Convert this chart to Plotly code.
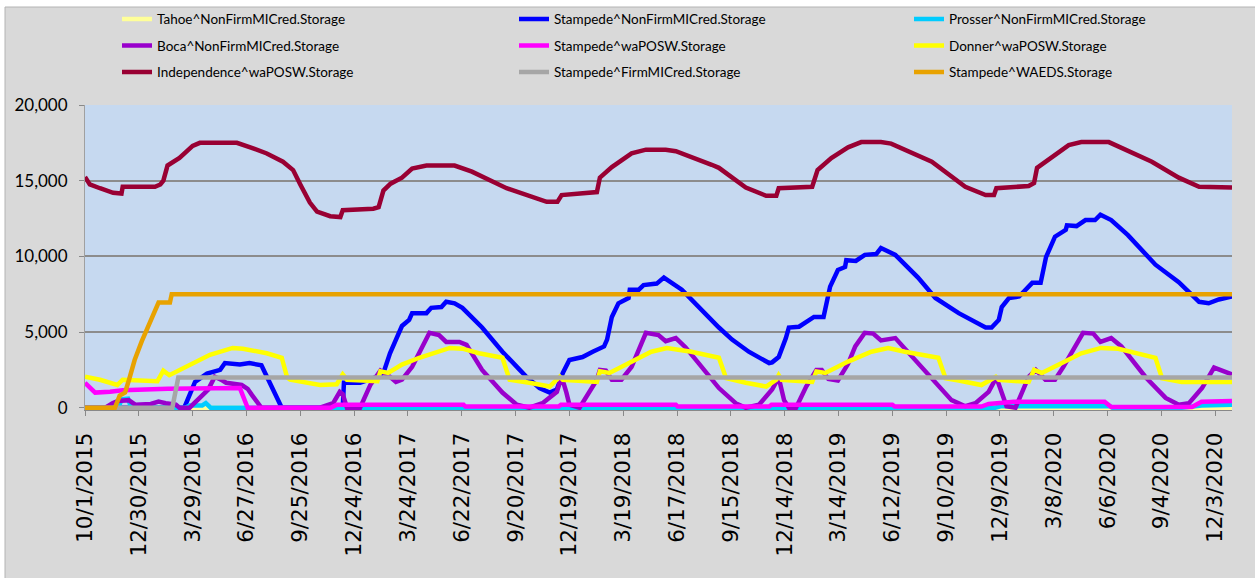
import plotly.graph_objects as go

X_START = "2015-10-01"
X_END = "2020-12-31"
TICK_START = "2015-10-01"
TICK_STEP_DAYS = 90
Y_TICKS = [0, 5000, 10000, 15000, 20000]

TAHOE_DATES = ["2015-10-01", "2020-12-31"]
TAHOE_VALUES = [0, 0]

STNF_DATES = ["2015-10-01", "2016-03-15", "2016-04-02", "2016-04-22", "2016-05-14", "2016-05-22",
              "2016-06-16", "2016-07-02", "2016-07-22", "2016-08-25", "2016-12-05", "2016-12-07",
              "2017-01-03", "2017-01-25", "2017-02-11", "2017-02-22", "2017-03-04", "2017-03-14",
              "2017-03-26", "2017-03-31", "2017-04-24", "2017-05-02", "2017-05-19", "2017-05-27",
              "2017-06-10", "2017-06-23", "2017-07-26", "2017-08-29", "2017-09-27", "2017-10-08",
              "2017-10-30", "2017-11-16", "2017-11-28", "2017-12-08", "2017-12-19", "2018-01-10",
              "2018-01-27", "2018-02-15", "2018-02-20", "2018-02-28", "2018-03-11", "2018-03-28",
              "2018-03-30", "2018-04-14", "2018-04-22", "2018-05-14", "2018-05-26", "2018-06-25",
              "2018-08-26", "2018-09-17", "2018-10-15", "2018-11-18", "2018-11-23", "2018-12-04",
              "2018-12-16", "2018-12-21", "2019-01-07", "2019-02-01", "2019-02-17", "2019-02-28",
              "2019-03-13", "2019-03-25", "2019-03-27", "2019-04-12", "2019-04-27", "2019-05-16",
              "2019-05-24", "2019-06-17", "2019-07-25", "2019-08-23", "2019-10-01", "2019-11-15",
              "2019-11-25", "2019-12-07", "2019-12-12", "2019-12-24", "2020-01-10", "2020-02-01",
              "2020-02-15", "2020-02-24", "2020-03-10", "2020-03-28", "2020-03-30", "2020-04-15",
              "2020-04-30", "2020-05-16", "2020-05-25", "2020-06-12", "2020-07-10", "2020-08-25",
              "2020-10-03", "2020-10-20", "2020-11-06", "2020-11-22", "2020-12-09", "2020-12-31"]
STNF_VALUES = [0, 0, 1700, 2250, 2500, 2950,
               2850, 2950, 2800, 0, 0, 1650,
               1650, 1950, 2300, 3600, 4500, 5400,
               5800, 6250, 6250, 6600, 6650, 7000,
               6900, 6600, 5300, 3700, 2500, 2050,
               1300, 1000, 1200, 2300, 3150, 3350,
               3700, 4050, 4500, 6000, 6900, 7250,
               7800, 7800, 8100, 8200, 8600, 7800,
               5300, 4500, 3700, 2950, 3000, 3350,
               4600, 5300, 5350, 6000, 6000, 8000,
               9100, 9300, 9750, 9700, 10100, 10150,
               10550, 10100, 8600, 7250, 6250, 5300,
               5300, 5800, 6650, 7250, 7350, 8250,
               8250, 9950, 11300, 11750, 12050, 12000,
               12400, 12400, 12750, 12400, 11400, 9450,
               8300, 7650, 7000, 6900, 7150, 7350]

PROSSER_DATES = ["2015-10-01", "2015-11-26", "2015-12-01", "2015-12-12", "2015-12-17", "2016-03-17",
                 "2016-03-24", "2016-04-14", "2016-04-20", "2016-04-28", "2019-12-01", "2019-12-10",
                 "2020-06-10", "2020-06-14", "2020-10-08", "2020-11-10", "2020-12-31"]
PROSSER_VALUES = [0, 0, 550, 600, 0, 0,
                  150, 150, 300, 0, 0, 100,
                  100, 0, 0, 150, 200]

BOCA_DATES = ["2015-10-01", "2015-11-04", "2015-11-16", "2015-11-25", "2015-12-13", "2015-12-24",
              "2016-01-19", "2016-02-01", "2016-02-13", "2016-03-01", "2016-03-07", "2016-03-24",
              "2016-04-24", "2016-05-05", "2016-05-18", "2016-05-24", "2016-06-19", "2016-06-29",
              "2016-07-06", "2016-07-22", "2016-10-28", "2016-11-19", "2016-11-30", "2016-12-05",
              "2016-12-12", "2017-01-03", "2017-01-20", "2017-02-06", "2017-02-22", "2017-03-04",
              "2017-03-14", "2017-03-31", "2017-04-29", "2017-05-15", "2017-05-27", "2017-06-18",
              "2017-06-30", "2017-07-26", "2017-08-29", "2017-09-22", "2017-10-13", "2017-11-04",
              "2017-11-28", "2017-12-06", "2017-12-14", "2017-12-19", "2018-01-05", "2018-02-03",
              "2018-02-08", "2018-02-18", "2018-02-28", "2018-03-16", "2018-04-02", "2018-04-26",
              "2018-05-17", "2018-05-29", "2018-06-15", "2018-07-01", "2018-07-23", "2018-08-26",
              "2018-09-23", "2018-10-10", "2018-11-01", "2018-11-23", "2018-12-04", "2018-12-13",
              "2018-12-21", "2019-01-02", "2019-01-19", "2019-02-05", "2019-02-14", "2019-02-25",
              "2019-03-13", "2019-03-30", "2019-04-11", "2019-04-27", "2019-05-11", "2019-05-24",
              "2019-06-17", "2019-07-03", "2019-08-11", "2019-09-19", "2019-10-12", "2019-10-29",
              "2019-11-20", "2019-12-03", "2019-12-20", "2020-01-04", "2020-01-26", "2020-02-07",
              "2020-02-23", "2020-03-10", "2020-03-24", "2020-04-13", "2020-04-26", "2020-05-13",
              "2020-05-25", "2020-06-12", "2020-06-29", "2020-08-09", "2020-09-11", "2020-10-03",
              "2020-10-20", "2020-11-11", "2020-12-01", "2020-12-31"]
BOCA_VALUES = [0, 0, 300, 450, 500, 200,
               250, 400, 300, 200, 0, 0,
               1200, 2050, 1800, 1650, 1500, 1250,
               850, 0, 0, 300, 1050, 900,
               0, 0, 1500, 2450, 2050, 1700,
               1850, 2700, 4950, 4800, 4350, 4350,
               4150, 2500, 1000, 200, 0, 300,
               1050, 2050, 1000, 200, 0, 1850,
               2500, 2450, 1850, 1850, 2700, 4950,
               4800, 4400, 4600, 4000, 2950, 1300,
               300, 0, 200, 1200, 2000, 500,
               0, 0, 1400, 2500, 2500, 1900,
               1800, 2900, 4050, 4950, 4900, 4450,
               4600, 3900, 2100, 500, 100, 300,
               1050, 2000, 100, 0, 2050, 2500,
               1850, 1850, 2700, 4050, 4950, 4900,
               4350, 4600, 4050, 2000, 650, 200,
               300, 1300, 2650, 2200]

STWA_DATES = ["2015-10-01", "2015-10-18", "2015-11-12", "2015-12-03", "2016-02-16", "2016-06-16",
              "2016-06-29", "2016-11-15", "2016-11-25", "2017-06-25", "2017-06-28", "2017-12-01",
              "2017-12-05", "2018-06-15", "2018-06-18", "2018-11-18", "2018-11-22", "2019-06-12",
              "2019-06-16", "2019-11-08", "2019-11-20", "2019-12-10", "2020-01-01", "2020-06-01",
              "2020-06-12", "2020-10-25", "2020-11-10", "2020-12-31"]
STWA_VALUES = [1650, 1000, 1050, 1150, 1250, 1300,
               0, 0, 200, 200, 80, 80,
               200, 200, 80, 80, 200, 200,
               80, 80, 250, 320, 400, 400,
               50, 50, 400, 450]

DONNER_DATES = ["2015-10-01", "2015-10-26", "2015-11-24", "2015-12-03", "2016-01-30", "2016-02-09",
                "2016-02-19", "2016-03-29", "2016-04-27", "2016-06-04", "2016-06-21", "2016-07-31",
                "2016-08-25", "2016-09-03", "2016-09-08", "2016-10-28", "2016-11-25", "2016-12-05",
                "2016-12-12", "2017-02-01", "2017-02-06", "2017-02-19", "2017-03-14", "2017-04-12",
                "2017-05-10", "2017-06-02", "2017-06-23", "2017-07-21", "2017-08-29", "2017-09-10",
                "2017-10-13", "2017-11-16", "2017-12-03", "2017-12-08", "2018-02-03", "2018-02-08",
                "2018-02-24", "2018-03-16", "2018-04-09", "2018-05-05", "2018-05-31", "2018-07-11",
                "2018-08-26", "2018-09-07", "2018-10-10", "2018-11-13", "2018-11-30", "2018-12-04",
                "2018-12-09", "2019-01-29", "2019-02-05", "2019-02-20", "2019-03-30", "2019-05-08",
                "2019-06-05", "2019-07-03", "2019-08-28", "2019-09-09", "2019-10-01", "2019-11-08",
                "2019-12-02", "2019-12-07", "2020-01-26", "2020-02-04", "2020-02-17", "2020-03-21",
                "2020-04-23", "2020-05-26", "2020-06-24", "2020-08-25", "2020-09-05", "2020-10-08",
                "2020-12-31"]
DONNER_VALUES = [2050, 1850, 1500, 1850, 1750, 2450,
                 2150, 2900, 3500, 3950, 3900, 3600,
                 3300, 2000, 1850, 1500, 1550, 2200,
                 1850, 1750, 2400, 2300, 2850, 3300,
                 3700, 3950, 3900, 3600, 3300, 1850,
                 1650, 1400, 2050, 1850, 1700, 2400,
                 2300, 2700, 3150, 3700, 3950, 3700,
                 3300, 1950, 1650, 1400, 1850, 2150,
                 1850, 1700, 2400, 2300, 3050, 3700,
                 3950, 3700, 3300, 1950, 1800, 1500,
                 2050, 1850, 1700, 2500, 2300, 2950,
                 3600, 3950, 3900, 3300, 1950, 1700,
                 1700]

INDEP_DATES = ["2015-10-01", "2015-10-09", "2015-10-26", "2015-11-17", "2015-12-01", "2015-12-03",
               "2016-01-26", "2016-02-04", "2016-02-09", "2016-02-16", "2016-03-07", "2016-03-29",
               "2016-04-10", "2016-06-11", "2016-07-07", "2016-07-31", "2016-08-27", "2016-09-13",
               "2016-09-25", "2016-10-11", "2016-10-23", "2016-11-14", "2016-12-01", "2016-12-05",
               "2017-01-25", "2017-02-03", "2017-02-11", "2017-02-23", "2017-03-14", "2017-03-31",
               "2017-04-24", "2017-06-10", "2017-07-09", "2017-09-05", "2017-11-11", "2017-11-29",
               "2017-12-06", "2018-02-03", "2018-02-08", "2018-02-28", "2018-04-02", "2018-04-26",
               "2018-05-29", "2018-06-15", "2018-08-14", "2018-08-26", "2018-10-10", "2018-11-13",
               "2018-11-30", "2018-12-04", "2019-01-29", "2019-02-07", "2019-03-02", "2019-03-30",
               "2019-04-21", "2019-05-24", "2019-06-10", "2019-08-17", "2019-10-12", "2019-11-15",
               "2019-11-29", "2019-12-03", "2020-01-26", "2020-02-04", "2020-02-09", "2020-03-04",
               "2020-04-02", "2020-04-23", "2020-06-08", "2020-08-19", "2020-10-03", "2020-11-06",
               "2020-12-31"]
INDEP_VALUES = [15250, 14750, 14500, 14200, 14150, 14600,
                14600, 14750, 15000, 16000, 16500, 17300,
                17500, 17500, 17150, 16800, 16250, 15700,
                14750, 13550, 12950, 12650, 12600, 13050,
                13150, 13250, 14350, 14800, 15200, 15800,
                16000, 16000, 15600, 14500, 13600, 13600,
                14050, 14250, 15200, 15900, 16800, 17050,
                17050, 16950, 16050, 15850, 14550, 14000,
                14000, 14500, 14600, 15700, 16500, 17200,
                17550, 17550, 17450, 16250, 14600, 14050,
                14050, 14500, 14650, 14850, 15850, 16500,
                17350, 17550, 17550, 16250, 15200, 14600,
                14550]

STFIRM_DATES = ["2015-10-01", "2016-02-24", "2016-03-05", "2020-12-31"]
STFIRM_VALUES = [0, 0, 2000, 2000]

WAEDS_DATES = ["2015-10-01", "2015-11-20", "2015-11-28", "2015-12-07", "2015-12-14", "2015-12-23",
               "2016-01-04", "2016-01-15", "2016-01-29", "2016-02-01", "2016-02-20", "2016-02-23",
               "2020-12-31"]
WAEDS_VALUES = [0, 0, 800, 1000, 1900, 3150,
                4400, 5350, 6700, 6950, 6950, 7500,
                7500]

SERIES = [
    ("Tahoe^NonFirmMICred.Storage", TAHOE_DATES, TAHOE_VALUES, "#FFFF99", "legend"),
    ("Stampede^NonFirmMICred.Storage", STNF_DATES, STNF_VALUES, "#0000FF", "legend2"),
    ("Prosser^NonFirmMICred.Storage", PROSSER_DATES, PROSSER_VALUES, "#00CCFF", "legend3"),
    ("Boca^NonFirmMICred.Storage", BOCA_DATES, BOCA_VALUES, "#9900CC", "legend"),
    ("Stampede^waPOSW.Storage", STWA_DATES, STWA_VALUES, "#FF00FF", "legend2"),
    ("Donner^waPOSW.Storage", DONNER_DATES, DONNER_VALUES, "#FFFF00", "legend3"),
    ("Independence^waPOSW.Storage", INDEP_DATES, INDEP_VALUES, "#990033", "legend"),
    ("Stampede^FirmMICred.Storage", STFIRM_DATES, STFIRM_VALUES, "#A6A6A6", "legend2"),
    ("Stampede^WAEDS.Storage", WAEDS_DATES, WAEDS_VALUES, "#E8A200", "legend3"),
]

W, H = 1255, 578
ML, MR, MT, MB = 85, 23, 105, 168
PLOT_W = W - ML - MR
PLOT_H = H - MT - MB

fig = go.Figure()
for name, xs, ys, color, leg in SERIES:
    fig.add_trace(go.Scatter(
        x=xs, y=ys, name=name, mode="lines",
        line=dict(color=color, width=4.5),
        legend=leg, legendgroup=name,
    ))

LEG_FONT = dict(family="Lato, sans-serif", size=13.5, color="#000000")


def px_x(p):
    return (p - ML) / PLOT_W


def px_y(p):
    return (H - MB - p) / PLOT_H


legend_common = dict(
    xanchor="left", yanchor="top", orientation="v",
    bgcolor="rgba(0,0,0,0)", borderwidth=0,
    font=LEG_FONT, tracegroupgap=6, itemwidth=30,
)
leg_top = 3.7
fig.update_layout(
    legend=dict(x=px_x(117), y=px_y(leg_top), **legend_common),
    legend2=dict(x=px_x(514), y=px_y(leg_top), **legend_common),
    legend3=dict(x=px_x(909), y=px_y(leg_top), **legend_common),
)

fig.update_layout(
    width=W, height=H,
    margin=dict(l=ML, r=MR, t=MT, b=MB, autoexpand=False),
    paper_bgcolor="#D9D9D9",
    plot_bgcolor="#C6D9F0",
    showlegend=True,
    xaxis=dict(
        type="date",
        range=[X_START, X_END],
        tick0=TICK_START,
        dtick=TICK_STEP_DAYS * 86400000,
        tickformat="%-m/%-d/%Y",
        tickangle=-90,
        tickfont=dict(family="DejaVu Sans, Verdana, sans-serif", size=21.5, color="#000000"),
        ticks="outside", ticklen=5, tickcolor="#888888", tickwidth=1,
        ticklabelstandoff=8,
        showgrid=False, showline=True, linecolor="#888888", linewidth=1,
        zeroline=False,
    ),
    yaxis=dict(
        range=[-150, 20000],
        tickvals=Y_TICKS,
        tickformat=",",
        tickfont=dict(family="Lato, sans-serif", size=17, color="#000000"),
        ticks="outside", ticklen=5, tickcolor="#888888", tickwidth=1,
        ticklabelstandoff=8,
        showgrid=True, gridcolor="#8C8C8C", gridwidth=1.5,
        zeroline=True, zerolinecolor="#8C8C8C", zerolinewidth=1.5,
        showline=True, linecolor="#A0A0A0", linewidth=1,
    ),
    shapes=[
        dict(type="rect", xref="paper", yref="paper", layer="below",
             x0=px_x(-10), x1=px_x(W + 10), y0=px_y(7), y1=px_y(-10),
             fillcolor="#FFFFFF", line=dict(width=0)),
        dict(type="rect", xref="paper", yref="paper", layer="below",
             x0=px_x(-10), x1=px_x(5), y0=px_y(H + 10), y1=px_y(7),
             fillcolor="#FFFFFF", line=dict(width=0)),
        dict(type="line", xref="paper", yref="paper", layer="below",
             x0=px_x(5), x1=px_x(W + 10), y0=px_y(7), y1=px_y(7),
             line=dict(color="#B4B4B4", width=1)),
        dict(type="line", xref="paper", yref="paper", layer="below",
             x0=px_x(5), x1=px_x(5), y0=px_y(7), y1=px_y(H + 10),
             line=dict(color="#B4B4B4", width=1)),
    ],
)

fig.write_html(
    "out.html",
    config={"displayModeBar": False},
    post_script="document.body.style.margin='0';document.body.style.overflow='hidden';",
)
